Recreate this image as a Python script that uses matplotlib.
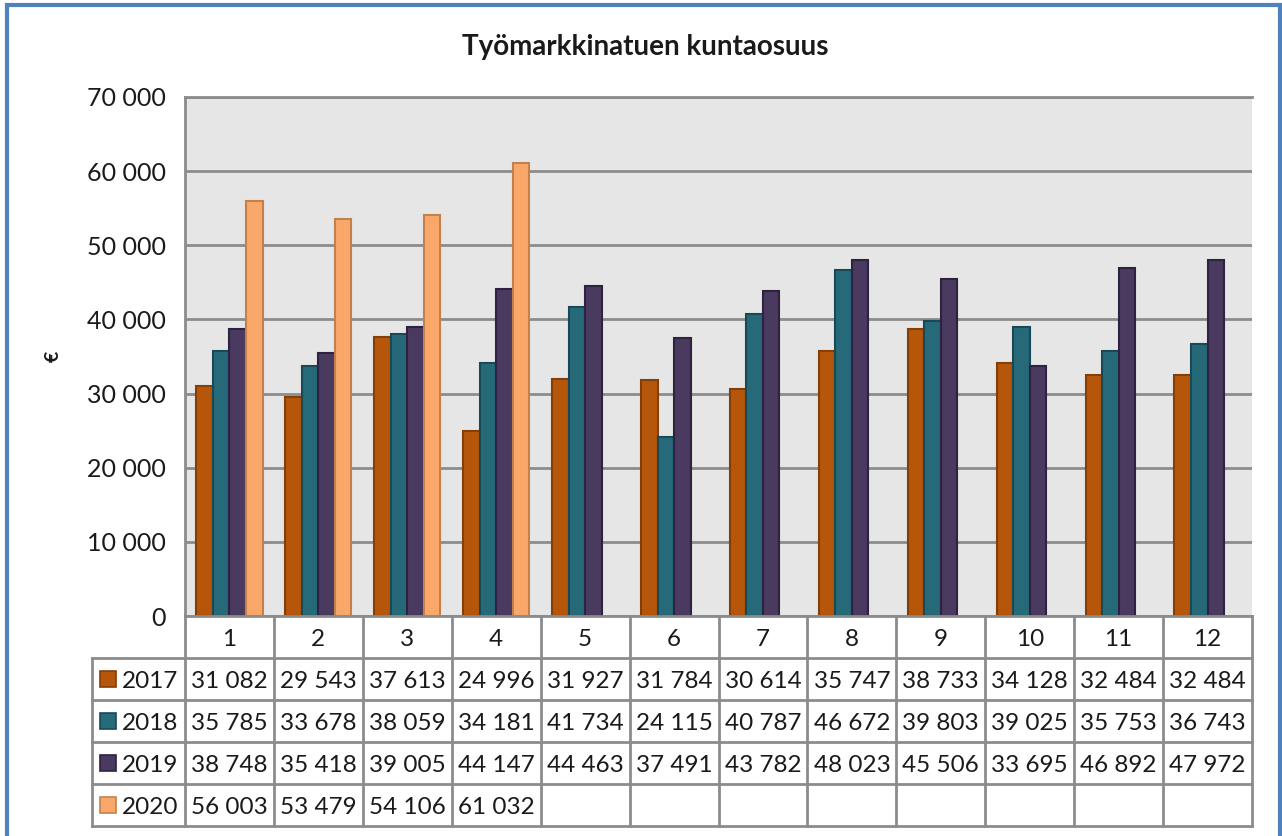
import numpy as np
import matplotlib.pyplot as plt
from matplotlib.patches import Rectangle
from matplotlib.ticker import FuncFormatter

plt.rcParams['font.family'] = ['Lato', 'DejaVu Sans']

months = [str(m) for m in range(1, 13)]
years = ['2017', '2018', '2019', '2020']
v2017 = [31082, 29543, 37613, 24996, 31927, 31784, 30614, 35747, 38733, 34128, 32484, 32484]
v2018 = [35785, 33678, 38059, 34181, 41734, 24115, 40787, 46672, 39803, 39025, 35753, 36743]
v2019 = [38748, 35418, 39005, 44147, 44463, 37491, 43782, 48023, 45506, 33695, 46892, 47972]
v2020 = [56003, 53479, 54106, 61032] + [None] * 8
series = [v2017, v2018, v2019, v2020]

fills = ['#b5560b', '#266a7a', '#4b3a60', '#f9a86a']
edges = ['#843e06', '#174a56', '#2d2240', '#c4804a']
grid_c = '#8c8c8c'
txt_c = '#1a1a1a'

W, H = 1282, 836
fig = plt.figure(figsize=(W / 100, H / 100), dpi=100)

# blue frame around everything
fig.patches.append(Rectangle((7 / W, -0.05), (1280 - 7) / W, 1.05 - 5 / H,
                             transform=fig.transFigure, fill=False,
                             edgecolor='#4f81bd', lw=3, clip_on=False))

ax = fig.add_axes([185 / W, 1 - 616 / H, (1252 - 185) / W, (616 - 97) / H])
ax.set_facecolor('#e6e6e6')
x = np.arange(12)
w = 0.186
for k, vals in enumerate(series):
    y = [np.nan if v is None else v for v in vals]
    ax.bar(x + (k - 1.5) * w, y, width=w, color=fills[k],
           edgecolor=edges[k], lw=1.5, zorder=3)
ax.set_xlim(-0.5, 11.5)
ax.set_ylim(0, 70000)
ax.set_yticks(np.arange(0, 70001, 10000))
ax.yaxis.set_major_formatter(FuncFormatter(lambda v, p: f'{int(v):,}'.replace(',', ' ')))
ax.grid(axis='y', color=grid_c, lw=2, zorder=1)
ax.set_xticks([])
ax.tick_params(axis='y', length=0, pad=14, labelsize=18, labelcolor=txt_c)
for s in ['right', 'bottom']:
    ax.spines[s].set_visible(False)
for s in ['left', 'top']:
    ax.spines[s].set_color(grid_c)
    ax.spines[s].set_linewidth(2)
ax.set_ylabel('€', fontsize=14, fontweight='bold', labelpad=18, color=txt_c)

fig.text(645 / W, 1 - 47 / H, 'Työmarkkinatuen kuntaosuus', ha='center', va='center',
         fontsize=20, fontweight='bold', color=txt_c)

# data table below the plot
unit = (1252 - 185) / 12
xl = -0.5 - (185 - 92) / unit
tax = fig.add_axes([92 / W, 1 - 826 / H, (1252 - 92) / W, (826 - 616) / H])
tax.set_xlim(xl, 11.5)
tax.set_ylim(5, 0)
tax.axis('off')
lk = dict(color=grid_c, lw=2, solid_capstyle='projecting', clip_on=False)
tax.plot([-0.5, 11.5], [0, 0], **lk)
for r in range(1, 6):
    tax.plot([xl, 11.5], [r, r], **lk)
tax.plot([xl, xl], [1, 5], **lk)
for c in range(13):
    tax.plot([c - 0.5, c - 0.5], [0, 5], **lk)

for i, m in enumerate(months):
    tax.text(i, 0.55, m, ha='center', va='center', fontsize=17.5, color=txt_c)
for r, (yr, vals) in enumerate(zip(years, series)):
    tax.plot(xl + 16 / unit, r + 1.5, marker='s', ms=11, color=fills[r],
             markeredgecolor=edges[r], mew=1.2, clip_on=False)
    tax.text(xl + 30 / unit, r + 1.55, yr, ha='left', va='center', fontsize=17.5, color=txt_c)
    for i, v in enumerate(vals):
        if v is None:
            continue
        tax.text(i, r + 1.55, f'{v:,}'.replace(',', ' '), ha='center', va='center',
                 fontsize=17.5, color=txt_c)

fig.savefig('out.png', dpi=100, facecolor='white')
